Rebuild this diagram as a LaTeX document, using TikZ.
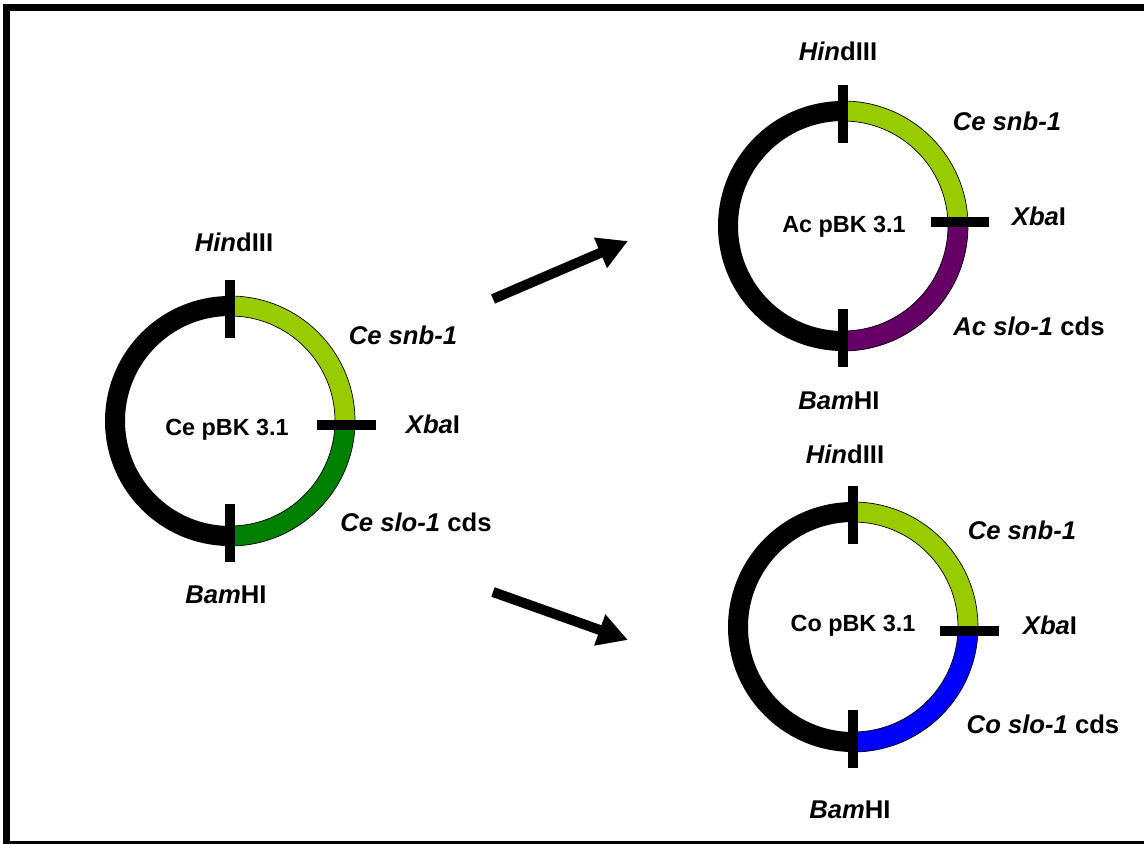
\documentclass[tikz,border=0pt]{standalone}
\usepackage{fontspec}
\setmainfont{Liberation Sans}
\usetikzlibrary{arrows.meta}

\definecolor{snbgreen}{RGB}{153,204,0}
\definecolor{slogreen}{RGB}{0,128,0}
\definecolor{slopurple}{RGB}{102,0,102}
\definecolor{sloblue}{RGB}{0,0,255}

\tikzset{
  sitelabel/.style={font=\fontsize{14.6}{17}\selectfont\bfseries, text height=10.4pt, text depth=0pt, inner sep=0pt},
  vectorname/.style={font=\fontsize{13.3}{16}\selectfont\bfseries, text height=9.5pt, text depth=0pt, inner sep=0pt},
  segment/.style={draw=black, line width=0.4pt},
  cutsite/.style={line width=0.2cm},
  reaction/.style={line width=0.2cm, -{Triangle[length=0.6cm,width=0.62cm]}}
}

\begin{document}
\begin{tikzpicture}[x=0.02cm,y=0.02cm]
\useasboundingbox (0,0) rectangle (1144,843);
\clip (0,0) rectangle (1144,843);
\draw [line width=0.14cm] (6.5,835.5) rectangle (1152,-1.5);

\coordinate (ce) at (230,422);
\coordinate (ac) at (843,617);
\coordinate (co) at (853,216);

% parent vector
\begin{scope}[shift={(ce)}]
\fill (90:125) arc[start angle=90,end angle=270,radius=125] -- (270:105) arc[start angle=270,end angle=90,radius=105] -- cycle;
\filldraw [segment,fill=snbgreen] (90:125) arc[start angle=90,end angle=0,radius=125] -- (0:105) arc[start angle=0,end angle=90,radius=105] -- cycle;
\filldraw [segment,fill=slogreen] (0:125) arc[start angle=0,end angle=-90,radius=125] -- (-90:105) arc[start angle=-90,end angle=0,radius=105] -- cycle;
\draw [cutsite] (0,83) -- (0,141);
\draw [cutsite] (0,-83) -- (0,-141);
\draw [cutsite] (87,-4) -- (146,-4);
\end{scope}

\node [vectorname] (ceName) at (227,415.5) {Ce pBK 3.1};
\node [sitelabel] (ceHind) at (234,600.5) {\textit{Hin}dIII};
\node [sitelabel] (ceSnb) at (403,508) {\textit{Ce snb-1}};
\node [sitelabel] (ceXba) at (433,419) {\textit{Xba}I};
\node [sitelabel] (ceSlo) at (416,321) {\textit{Ce slo-1} cds};
\node [sitelabel] (ceBam) at (226,248.5) {\textit{Bam}HI};

% Ac slo-1 swap
\begin{scope}[shift={(ac)}]
\fill (90:125) arc[start angle=90,end angle=270,radius=125] -- (270:105) arc[start angle=270,end angle=90,radius=105] -- cycle;
\filldraw [segment,fill=snbgreen] (90:125) arc[start angle=90,end angle=0,radius=125] -- (0:105) arc[start angle=0,end angle=90,radius=105] -- cycle;
\filldraw [segment,fill=slopurple] (0:125) arc[start angle=0,end angle=-90,radius=125] -- (-90:105) arc[start angle=-90,end angle=0,radius=105] -- cycle;
\draw [cutsite] (0,83) -- (0,141);
\draw [cutsite] (0,-83) -- (0,-141);
\draw [cutsite] (88,4) -- (146,4);
\end{scope}

\node [vectorname] (acName) at (844,619) {Ac pBK 3.1};
\node [sitelabel] (acHind) at (838,791.5) {\textit{Hin}dIII};
\node [sitelabel] (acSnb) at (1007,721.5) {\textit{Ce snb-1}};
\node [sitelabel] (acXba) at (1039,627) {\textit{Xba}I};
\node [sitelabel] (acSlo) at (1029,516.5) {\textit{Ac slo-1} cds};
\node [sitelabel] (acBam) at (839,443) {\textit{Bam}HI};

% Co slo-1 swap
\begin{scope}[shift={(co)}]
\fill (90:125) arc[start angle=90,end angle=270,radius=125] -- (270:105) arc[start angle=270,end angle=90,radius=105] -- cycle;
\filldraw [segment,fill=snbgreen] (90:125) arc[start angle=90,end angle=0,radius=125] -- (0:105) arc[start angle=0,end angle=90,radius=105] -- cycle;
\filldraw [segment,fill=sloblue] (0:125) arc[start angle=0,end angle=-90,radius=125] -- (-90:105) arc[start angle=-90,end angle=0,radius=105] -- cycle;
\draw [cutsite] (0,83) -- (0,141);
\draw [cutsite] (0,-83) -- (0,-141);
\draw [cutsite] (87,-4) -- (146,-4);
\end{scope}

\node [vectorname] (coName) at (853,220) {Co pBK 3.1};
\node [sitelabel] (coHind) at (845,389) {\textit{Hin}dIII};
\node [sitelabel] (coSnb) at (1022,312.5) {\textit{Ce snb-1}};
\node [sitelabel] (coXba) at (1050,218) {\textit{Xba}I};
\node [sitelabel] (coSlo) at (1043,118.5) {\textit{Co slo-1} cds};
\node [sitelabel] (coBam) at (850,33.5) {\textit{Bam}HI};

\coordinate (upFrom) at (493,544);
\coordinate (upTo) at (628,602);
\coordinate (downFrom) at (493,251);
\coordinate (downTo) at (628,203);
\draw [reaction] (upFrom) -- (upTo);
\draw [reaction] (downFrom) -- (downTo);

\end{tikzpicture}
\end{document}
